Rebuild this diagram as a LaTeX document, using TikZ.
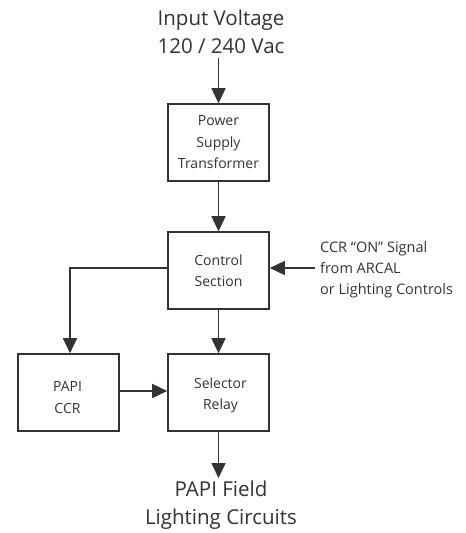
\documentclass[tikz,border=0pt]{standalone}
\usepackage{fontspec}
\setmainfont{Open Sans}
\usetikzlibrary{arrows.meta}
\definecolor{ink}{HTML}{333333}
\begin{document}
\begin{tikzpicture}[x=1pt,y=-1pt,
  boxtext/.style={align=center,font=\fontsize{14}{21.5}\selectfont,text=ink,inner sep=0pt},
  box/.style={draw=ink,line width=1.6pt,minimum width=101pt,minimum height=77pt,
    boxtext},
  big/.style={align=center,font=\fontsize{20.5}{28.5}\selectfont,text=ink},
  side/.style={align=left,font=\fontsize{14.5}{21}\selectfont,text=ink,anchor=west,inner sep=0pt},
  flow/.style={draw=ink,line width=1.6pt,-{Triangle[length=15pt,width=14pt]}}]
\useasboundingbox (0,0) rectangle (466,533);
\node[big] (input) at (221,32) {Input Voltage\\120 / 240 Vac};
\node[box] (psu) at (218.5,142.5) {Power\\Supply\\Transformer};
\node[box] (ctrl) at (218.5,270.5) {Control\\Section};
\node[box,label={[boxtext,yshift=-5pt,xshift=-1pt]center:PAPI\\CCR}] (ccr) at (68.5,392.5) {};
\node[box,label={[boxtext,yshift=-3pt,xshift=2pt]center:Selector\\Relay}] (sel) at (218.5,392.5) {};
\node[big] (field) at (221,505) {PAPI Field\\Lighting Circuits};
\node[side] (sig) at (320,270) {CCR “ON” Signal\\from ARCAL\\or Lighting Controls};
\coordinate (inTop) at (218.5,58);
\coordinate (sigEnd) at (315,268);
\coordinate (bend) at (70,268);
\coordinate (fieldTop) at (218.5,478);
\draw[flow] (inTop) -- (psu.north);
\draw[flow] (psu.south) -- (ctrl.north);
\draw[flow] (sigEnd) -- (sigEnd -| ctrl.east);
\draw[flow] (bend -| ctrl.west) -- (bend) -- (bend |- ccr.north);
\draw[flow] (ctrl.south) -- (sel.north);
\draw[flow] (ccr.east |- 0,391) -- (sel.west |- 0,391);
\draw[flow] (sel.south) -- (fieldTop);
\end{tikzpicture}
\end{document}
